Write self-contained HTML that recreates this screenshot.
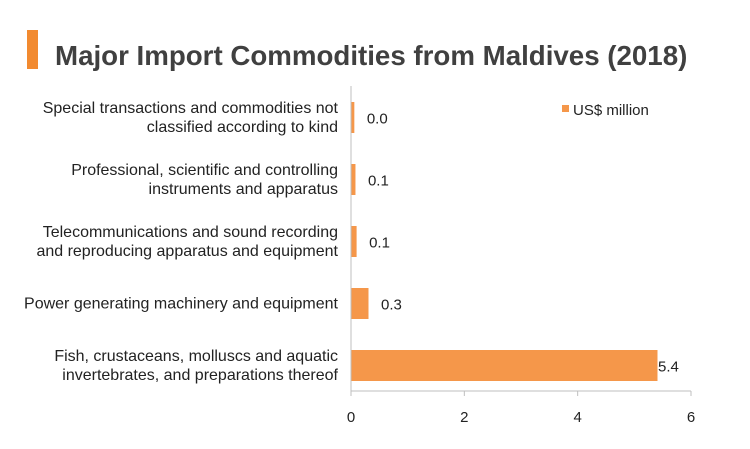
<!DOCTYPE html>
<html><head><meta charset="utf-8"><style>
body{margin:0;background:#fff;}
svg{display:block;font-family:"Liberation Sans",Arial,sans-serif;}
</style></head><body>
<svg width="750" height="449" viewBox="0 0 750 449">
<rect x="27" y="30" width="11" height="39" fill="#f28a30"/>
<text x="55" y="65" font-size="27.7" font-weight="bold" fill="#404040">Major Import Commodities from Maldives (2018)</text>
<rect x="562" y="105" width="7" height="7" fill="#f5974a"/>
<text x="573" y="115" font-size="15" fill="#222">US$ million</text>
<g id="plot"></g>
</svg>
<script>
const categories=[
["Special transactions and commodities not","classified according to kind"],
["Professional, scientific and controlling","instruments and apparatus"],
["Telecommunications and sound recording","and reproducing apparatus and equipment"],
["Power generating machinery and equipment"],
["Fish, crustaceans, molluscs and aquatic","invertebrates, and preparations thereof"]];
const values=[0.05,0.07,0.09,0.3,5.4];
const valueLabels=["0.0","0.1","0.1","0.3","5.4"];
const ticks=[0,2,4,6];
const NS="http://www.w3.org/2000/svg";
const g=document.getElementById('plot');
const x0=351,x1=691,yTop=86,yBot=391;
const xs=v=>x0+(v-0)/(6-0)*(x1-x0);
const yc=i=>117.5+62*i;
function mk(t,a){const e=document.createElementNS(NS,t);for(const k in a)e.setAttribute(k,a[k]);g.appendChild(e);return e;}
let ax=mk('line',{x1:x0,y1:yTop,x2:x0,y2:yBot,stroke:'#bfbfbf'});


let bx=mk('line',{x1:x0,y1:yBot,x2:x1,y2:yBot,stroke:'#bfbfbf'});


ticks.forEach(t=>{
 const tl=mk('line',{x1:xs(t),y1:yBot,x2:xs(t),y2:yBot+5,stroke:'#bfbfbf'});
 
 
 const tx=mk('text',{x:xs(t),y:yBot+31,'font-size':15,'text-anchor':'middle',fill:'#222'});
 tx.textContent=t;
 
 
});
categories.forEach((c,i)=>{
 const y=yc(i);
 const r=mk('rect',{x:x0+0.5,y:y-15.5,width:Math.max(0,xs(values[i])-x0),height:31,fill:'#f5974a'});
 
 
 const lx=Math.min(xs(values[i])+13,658);
 const vl=mk('text',{x:lx,y:y+6,'font-size':15,fill:'#222'});
 vl.textContent=valueLabels[i];
 
 
 const n=c.length;
 c.forEach((line,j)=>{
  const t=mk('text',{x:338,y:y+5+(j-(n-1)/2)*19,'font-size':16,'text-anchor':'end',fill:'#222'});
  t.textContent=line;
  
  
 });
});
</script>
</body></html>
